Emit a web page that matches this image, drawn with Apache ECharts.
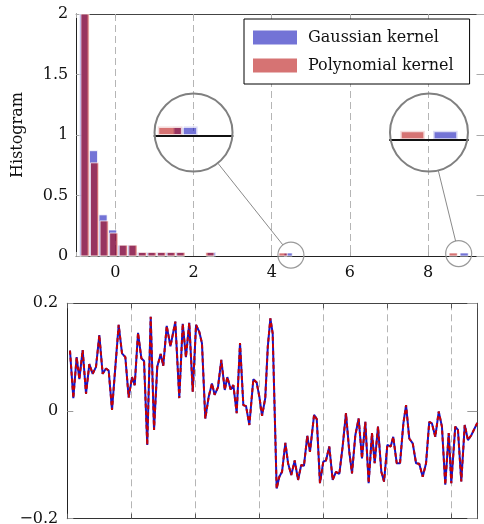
<!DOCTYPE html>
<html>
<head>
<meta charset="utf-8">
<script src="https://cdn.jsdelivr.net/npm/echarts@6/dist/echarts.min.js"></script>
<style>
  html, body { margin: 0; padding: 0; background: #fff; }
  #chart { width: 484px; height: 524px; }
</style>
</head>
<body>
<div id="chart"></div>
<script>
// histogram bins (centre of each bar + its height)
const binWidth = 0.21
const gaussCenters = [-0.805, -0.56, -0.315, -0.07, 0.175, 0.42, 0.665, 0.91, 1.155, 1.4, 1.645, 2.46, 4.42, 8.92]
const gaussHeights = [2.6, 0.87, 0.34, 0.215, 0.09, 0.09, 0.03, 0.03, 0.03, 0.03, 0.03, 0.03, 0.025, 0.025]
const polyCenters = [-0.775, -0.53, -0.285, -0.04, 0.205, 0.45, 0.695, 0.94, 1.185, 1.43, 1.675, 2.42, 4.29, 8.64]
const polyHeights = [2.6, 0.77, 0.29, 0.19, 0.09, 0.09, 0.03, 0.03, 0.03, 0.03, 0.03, 0.03, 0.025, 0.025]

// signal in the lower panel
const sampleTimes = [2.1, 4.7, 7.3, 9.4, 12, 14.6, 17.2, 19.8, 22.4, 25,
  27.6, 30.2, 32.3, 34.9, 37.5, 40.1, 42.7, 45.3, 47.9, 50.5,
  52.6, 55.2, 57.8, 59.9, 62.4, 65.1, 67.7, 70.2, 72.9, 74.9,
  77.6, 80.5, 84.3, 87.4, 90.1, 92.6, 95.2, 97.9, 100.5, 103,
  105.1, 107.7, 110.4, 112.9, 115, 117.6, 120.2, 122.9, 124.9, 127.5,
  129.6, 132.2, 134.8, 137.4, 139.5, 142.1, 145.2, 147.8, 150, 152,
  154.5, 156.5, 158.5, 160.3, 163.4, 165.5, 167.6, 170.2, 172.3, 174.8,
  177.5, 180.1, 182.6, 184.7, 187.3, 189.4, 192.6, 194.7, 197.2, 199.8,
  201.9, 204.5, 207.1, 209.7, 212.3, 214.9, 217.5, 220.1, 222.2, 224.8,
  227.4, 230, 232.6, 235.2, 237.8, 239.9, 242.5, 245.1, 247.2, 249.8,
  252.4, 254.4, 257.1, 259.7, 262.3, 264.4, 266.9, 269.6, 272.2, 274.7,
  277.4, 280, 282.5, 284.6, 287.2, 289.9, 292.4, 295, 297.7, 299.7,
  302.8, 304.9, 307.5, 310.2, 312.7, 315.3, 320]
const gaussianSignal = [0.112, 0.024, 0.10, 0.059, 0.113, 0.032, 0.087, 0.069, 0.082, 0.141,
  0.069, 0.079, 0.075, 0.002, 0.082, 0.16, 0.107, 0.10, 0.025, 0.063,
  0.048, 0.145, 0.098, 0.093, -0.063, 0.175, -0.035, 0.082, 0.106, 0.084,
  0.158, 0.12, 0.166, 0.024, 0.162, 0.10, 0.164, 0.036, 0.16, 0.147,
  0.126, -0.014, 0.027, 0.051, 0.030, 0.044, 0.095, 0.039, 0.063, 0.040,
  0.048, -0.004, 0.126, 0.011, 0.009, -0.026, 0.059, 0.053, 0.025, -0.009,
  0.024, 0.12, 0.172, 0.144, -0.144, -0.122, -0.113, -0.059, -0.097, -0.119,
  -0.092, -0.128, -0.100, -0.102, -0.046, -0.076, -0.007, -0.015, -0.134, -0.094,
  -0.092, -0.066, -0.128, -0.113, -0.117, -0.066, -0.004, -0.076, -0.116, -0.045,
  -0.014, -0.088, -0.020, -0.134, -0.041, -0.097, -0.029, -0.113, -0.131, -0.063,
  -0.066, -0.048, -0.097, -0.097, -0.023, 0.011, -0.051, -0.060, -0.097, -0.098,
  -0.122, -0.097, -0.020, -0.023, -0.048, -0.001, -0.029, -0.137, -0.041, -0.134,
  -0.029, -0.035, -0.131, -0.026, -0.054, -0.045, -0.022]
// the two reconstructions lie on top of each other in the picture
const polynomialSignal = gaussianSignal.slice()

// magnifier lenses: the spot that is magnified and where the lens sits (data coords)
const lenses = [
  { source: [4.49, 0.008], lens: [2.0, 1.02] },
  { source: [8.78, 0.02], lens: [8.02, 1.02] },
]
const lensRadius = 39
const magnify = 3

const serif = 'DejaVu Serif'
const blueFill = 'rgba(0,0,180,0.55)'
const redFill = 'rgba(180,0,0,0.55)'

const toBins = (centers, heights) =>
  centers.map((c, i) => [c - binWidth / 2, c + binWidth / 2, heights[i]])

function barRenderer(fill, edge) {
  return function (params, api) {
    const top = api.coord([api.value(0), api.value(2)])
    const base = api.coord([api.value(1), 0])
    const cs = params.coordSys
    const shape = echarts.graphic.clipRectByRect(
      { x: top[0], y: top[1], width: base[0] - top[0], height: base[1] - top[1] },
      { x: cs.x, y: cs.y, width: cs.width, height: cs.height }
    )
    if (!shape) return
    return {
      type: 'rect',
      shape,
      style: { fill, stroke: 'rgba(255,255,255,0.75)', lineWidth: edge },
    }
  }
}

const histSeries = (name, fill, bins, xi, yi, edge) => ({
  name,
  type: 'custom',
  xAxisIndex: xi,
  yAxisIndex: yi,
  renderItem: barRenderer(fill, edge),
  itemStyle: { color: fill },
  encode: { x: [0, 1], y: 2 },
  data: bins,
  silent: true,
})

const label = { fontFamily: serif, fontSize: 16, color: '#111' }
const hideX = (v) => (Math.abs(v % 2) < 1e-9 ? String(v) : '')

const option = {
  animation: false,
  backgroundColor: '#fff',
  textStyle: { fontFamily: serif },
  legend: {
    data: ['Gaussian kernel', 'Polynomial kernel'],
    orient: 'vertical',
    left: 244,
    top: 19,
    padding: [9, 16, 9, 9],
    itemWidth: 44,
    itemHeight: 14,
    itemGap: 9,
    icon: 'rect',
    backgroundColor: '#fff',
    borderColor: '#000',
    borderWidth: 1,
    borderRadius: 0,
    itemStyle: { borderWidth: 0 },
    textStyle: { ...label, lineHeight: 19, padding: [0, 0, 0, 6] },
    selectedMode: false,
  },
  grid: [
    { left: 76.2, top: 14, width: 408.3, height: 242, outerBoundsMode: 'none' },
    { left: 67.3, top: 303.3, width: 410, height: 215.4, outerBoundsMode: 'none' },
  ],
  xAxis: [
    {
      type: 'value', gridIndex: 0, min: -1, max: 9.44,
      axisLine: { onZero: false, lineStyle: { color: '#222', width: 1.2 } },
      axisTick: { inside: true, length: 4, lineStyle: { color: '#aaa' } },
      axisLabel: { ...label, margin: 9, formatter: hideX },
      splitLine: { show: true, lineStyle: { color: '#b5b5b5', type: [7, 4] } },
    },
    {
      type: 'value', gridIndex: 1, min: 0, max: 320, interval: 50,
      axisLine: { onZero: false, lineStyle: { color: '#333' } },
      axisTick: { inside: true, length: 5, lineStyle: { color: '#555' } },
      axisLabel: { show: false },
      splitLine: { show: true, lineStyle: { color: '#b5b5b5', type: [7, 4] } },
    },
    {
      type: 'value', gridIndex: 0, position: 'top', min: -1, max: 9.44,
      axisLine: { onZero: false, lineStyle: { color: '#444' } },
      axisTick: { inside: true, length: 4, lineStyle: { color: '#aaa' } },
      axisLabel: { show: false }, splitLine: { show: false },
    },
    {
      type: 'value', gridIndex: 1, position: 'top', min: 0, max: 320, interval: 50,
      axisLine: { onZero: false, lineStyle: { color: '#444' } },
      axisTick: { inside: true, length: 5, lineStyle: { color: '#555' } },
      axisLabel: { show: false }, splitLine: { show: false },
    },
  ],
  yAxis: [
    {
      type: 'value', gridIndex: 0, min: 0, max: 2, interval: 0.5,
      name: 'Histogram', nameLocation: 'middle', nameGap: 50, nameRotate: 90,
      nameTextStyle: label,
      axisLine: { show: true, onZero: false, lineStyle: { color: '#222' } },
      axisTick: { show: true, inside: true, length: 5, lineStyle: { color: '#aaa' } },
      axisLabel: { ...label, margin: 8 },
      splitLine: { show: false },
    },
    {
      type: 'value', gridIndex: 1, min: -0.2, max: 0.2, interval: 0.2,
      axisLine: { show: true, onZero: false, lineStyle: { color: '#222' } },
      axisTick: { show: true, inside: true, length: 6, lineStyle: { color: '#999' } },
      axisLabel: {
        ...label, margin: 9,
        formatter: (v) => (v === 0 ? '0' : String(v).replace('-', '\u2212')),
      },
      splitLine: { show: false },
    },
    {
      type: 'value', gridIndex: 0, position: 'right', min: 0, max: 2, interval: 0.5,
      axisLine: { show: true, onZero: false, lineStyle: { color: '#444' } },
      axisTick: { show: true, inside: true, length: 8, lineStyle: { color: '#aaa' } },
      axisLabel: { show: false }, splitLine: { show: false },
    },
    {
      type: 'value', gridIndex: 1, position: 'right', min: -0.2, max: 0.2, interval: 0.2,
      axisLine: { show: true, onZero: false, lineStyle: { color: '#444' } },
      axisTick: { show: true, inside: true, length: 10, lineStyle: { color: '#999' } },
      axisLabel: { show: false }, splitLine: { show: false },
    },
  ],
  series: [
    histSeries('Gaussian kernel', blueFill, toBins(gaussCenters, gaussHeights), 0, 0, 1),
    histSeries('Polynomial kernel', redFill, toBins(polyCenters, polyHeights), 0, 0, 1),
    {
      name: 'Gaussian reconstruction',
      type: 'line',
      xAxisIndex: 1,
      yAxisIndex: 1,
      data: sampleTimes.map((t, i) => [t, gaussianSignal[i]]),
      showSymbol: false,
      lineStyle: { color: '#1414c8', width: 2 },
      silent: true,
      z: 3,
    },
    {
      name: 'Polynomial reconstruction',
      type: 'line',
      xAxisIndex: 1,
      yAxisIndex: 1,
      data: sampleTimes.map((t, i) => [t, polynomialSignal[i]]),
      showSymbol: false,
      lineStyle: { color: '#c80000', width: 2, type: [4, 3] },
      silent: true,
      z: 4,
    },
  ],
}

const chart = echarts.init(document.getElementById('chart'), null, { renderer: 'canvas' })
chart.setOption(option)

// second pass: place the magnifier lenses using the top panel's scales
const topFinder = { xAxisIndex: 0, yAxisIndex: 0 }
const origin = chart.convertToPixel(topFinder, [0, 0])
const pxPerX = chart.convertToPixel(topFinder, [1, 0])[0] - origin[0]
const pxPerY = origin[1] - chart.convertToPixel(topFinder, [0, 1])[1]
const graphics = []

lenses.forEach((l, k) => {
  const small = chart.convertToPixel(topFinder, l.source)
  const big = chart.convertToPixel(topFinder, l.lens)
  const r = lensRadius
  const rs = r / magnify
  const axisY = big[1] + magnify * (origin[1] - small[1])
  const top = big[1] - r
  const xHalf = rs / pxPerX
  option.grid.push({ left: big[0] - r, top, width: 2 * r, height: axisY - top, outerBoundsMode: 'none' })
  const gi = option.grid.length - 1
  option.xAxis.push({
    type: 'value', gridIndex: gi, min: l.source[0] - xHalf, max: l.source[0] + xHalf, z: 10,
    axisLine: { onZero: false, lineStyle: { color: '#111', width: 2 } },
    axisTick: { show: false }, axisLabel: { show: false }, splitLine: { show: false },
  })
  option.yAxis.push({
    type: 'value', gridIndex: gi, min: 0, max: (axisY - top) / (magnify * pxPerY), show: false,
  })
  const xi = option.xAxis.length - 1
  const yi = option.yAxis.length - 1
  option.series.push(
    histSeries('Gaussian lens ' + k, blueFill, toBins(gaussCenters, gaussHeights), xi, yi, magnify),
    histSeries('Polynomial lens ' + k, redFill, toBins(polyCenters, polyHeights), xi, yi, magnify)
  )
  const dx = small[0] - big[0]
  const dy = small[1] - big[1]
  const d = Math.hypot(dx, dy)
  graphics.push(
    { type: 'circle', z: 50, shape: { cx: big[0], cy: big[1], r }, style: { fill: 'none', stroke: '#808080', lineWidth: 2 } },
    { type: 'circle', z: 50, shape: { cx: small[0], cy: small[1], r: rs }, style: { fill: 'none', stroke: '#9a9a9a', lineWidth: 1.2 } },
    {
      type: 'line', z: 50,
      shape: { x1: big[0] + (dx / d) * r, y1: big[1] + (dy / d) * r, x2: small[0] - (dx / d) * rs, y2: small[1] - (dy / d) * rs },
      style: { stroke: '#8a8a8a', lineWidth: 1 },
    }
  )
})
option.graphic = graphics
chart.setOption(option, true)
</script>
</body>
</html>
